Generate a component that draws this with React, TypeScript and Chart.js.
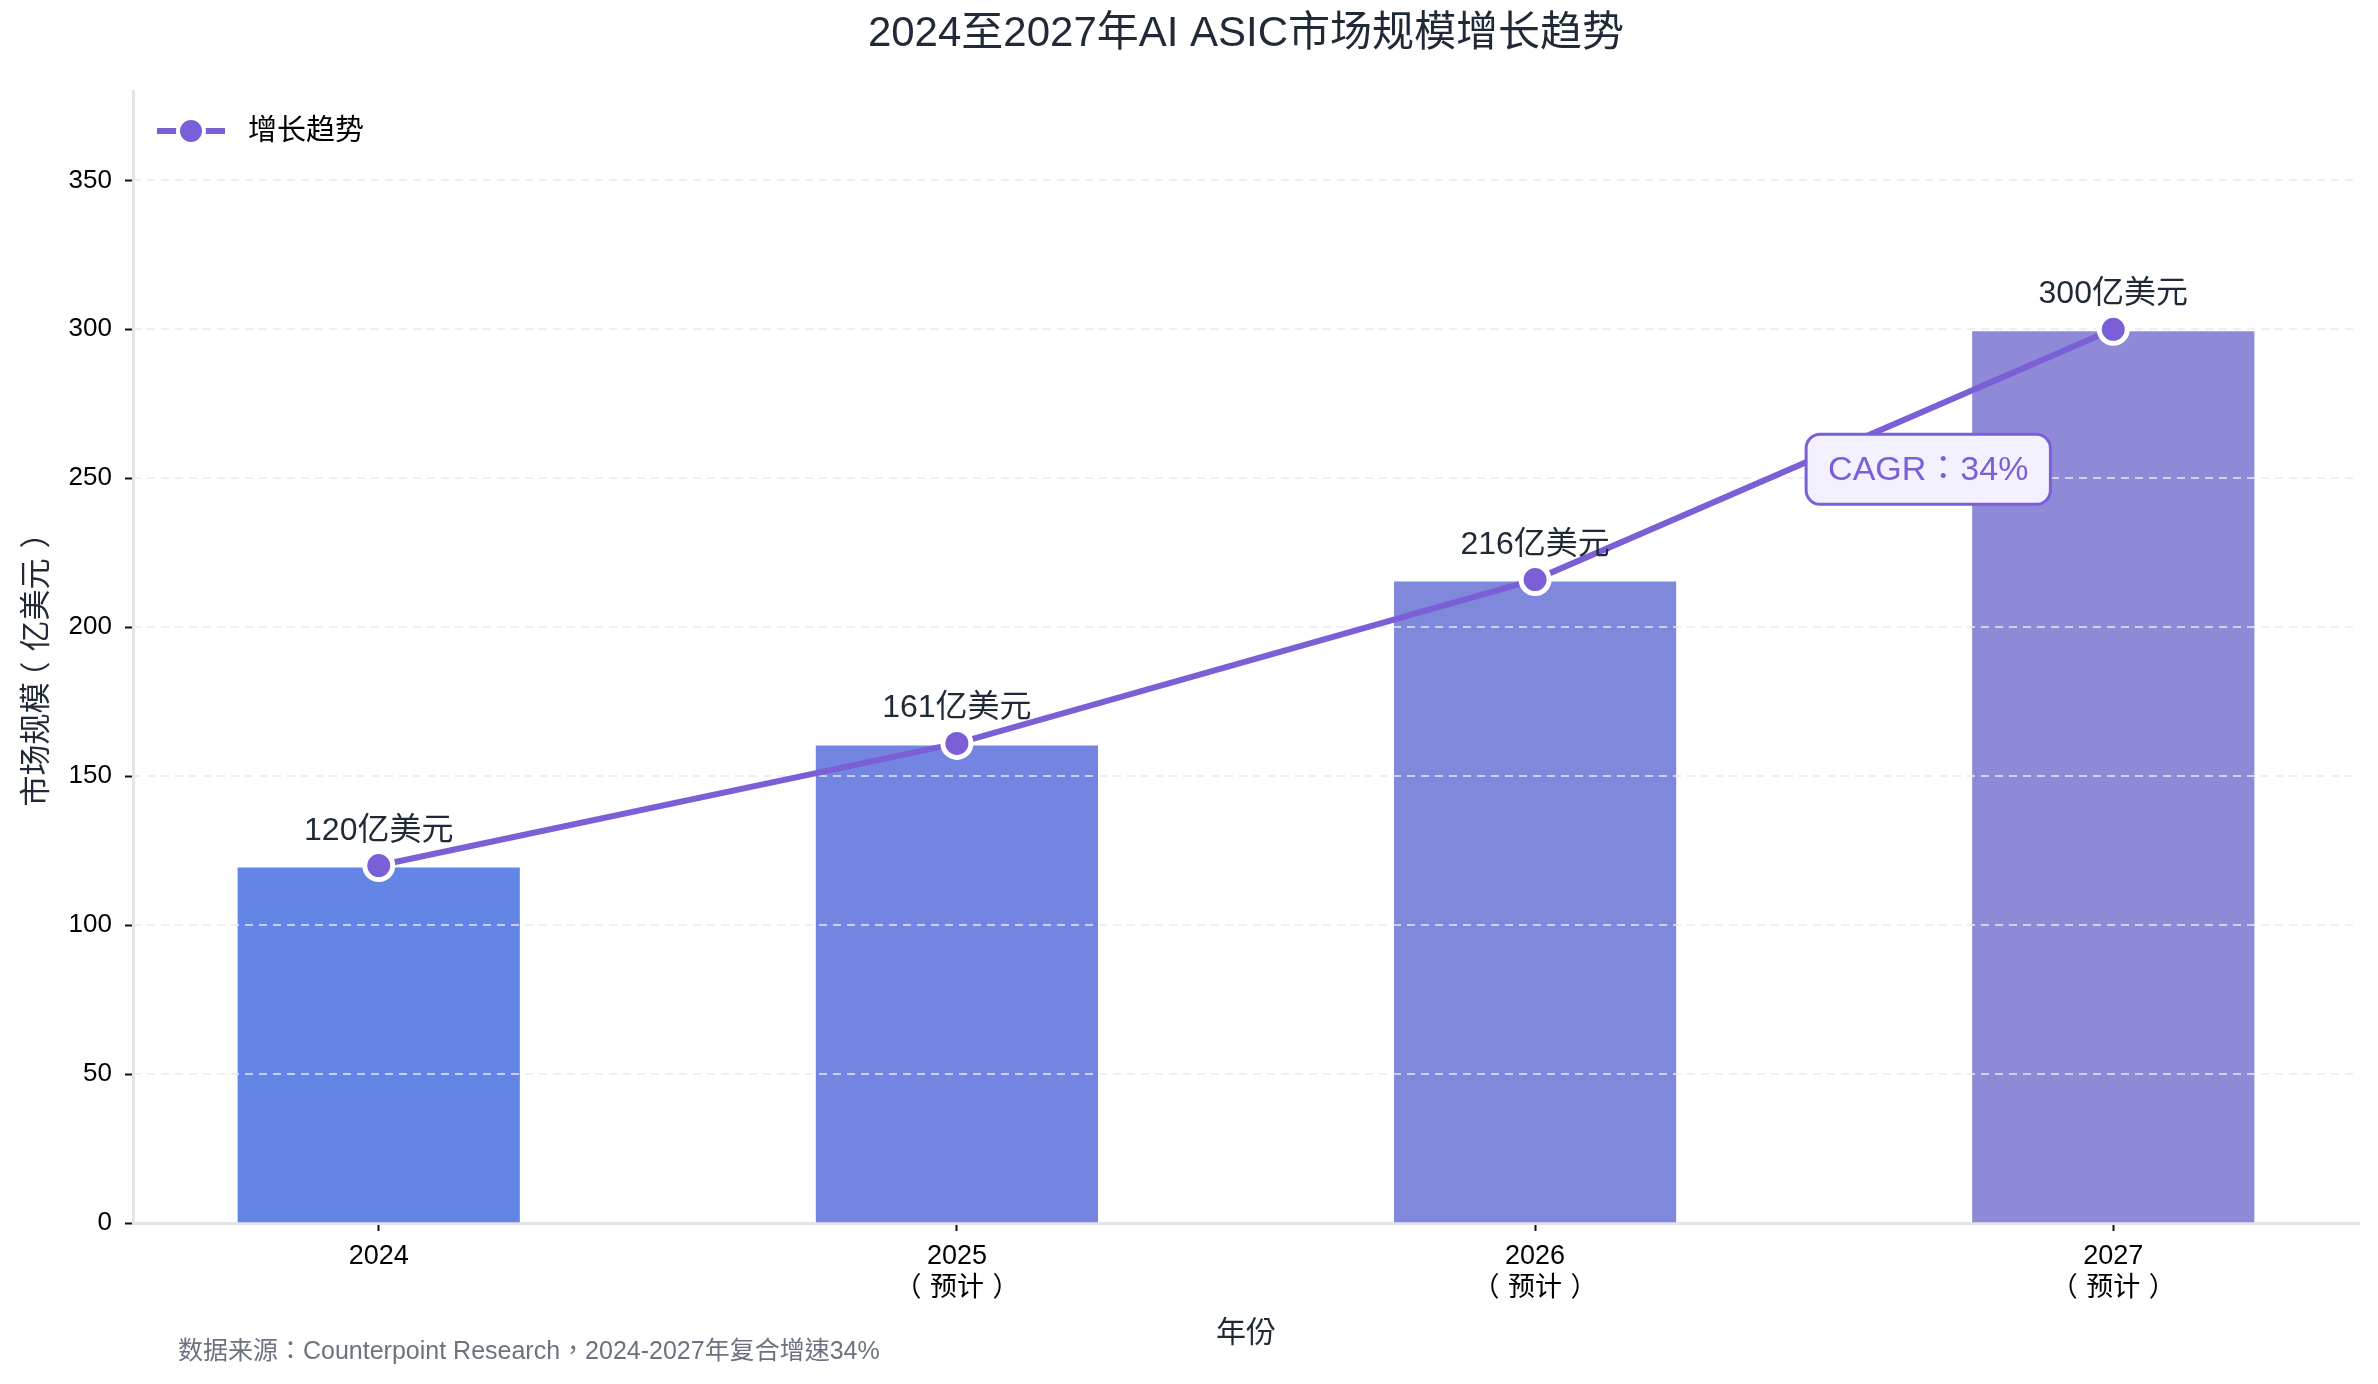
import { useEffect, useRef } from "react";
import { Chart, registerables } from "chart.js";

Chart.register(...registerables);

const years = ["2024", "2025", "2026", "2027"];
const yearNotes = ["", "（预计）", "（预计）", "（预计）"];
const marketSize = [120, 161, 216, 300];
const barColors = ["#6385E6", "#7485E1", "#8088DC", "#8E8AD8"];

const chartTitle = "2024至2027年AI ASIC市场规模增长趋势";
const legendLabel = "增长趋势";
const yTitle = "市场规模（亿美元）";
const xTitle = "年份";
const valueUnit = "亿美元";
const cagrLabel = "CAGR：34%";
const sourceNote = "数据来源：Counterpoint Research，2024-2027年复合增速34%";

const FONT = '"Liberation Sans", "Noto Sans CJK TC", sans-serif';
const PURPLE = "#7B5FD6";
const AXIS = "#E4E4EA";
const GRID = "rgba(232,232,240,0.75)";
const TEXT = "#1F2937";

// where the CAGR note sits, in data units
const cagrAt = { x: 2.68, y: 253 };

// full-width punctuation gets a whole em cell, its ink centred in the cell
const FULL_PUNCT = /[（）：，]/;
function drawText(ctx: CanvasRenderingContext2D, text: string, x: number, y: number, align: "left" | "center") {
  const em = ctx.measureText("中").width;
  const parts: { s: string; w: number; p: boolean }[] = [];
  let buf = "";
  for (const ch of text) {
    if (FULL_PUNCT.test(ch)) {
      if (buf) parts.push({ s: buf, w: ctx.measureText(buf).width, p: false });
      buf = "";
      parts.push({ s: ch, w: em, p: true });
    } else {
      buf += ch;
    }
  }
  if (buf) parts.push({ s: buf, w: ctx.measureText(buf).width, p: false });
  const total = parts.reduce((a, p) => a + p.w, 0);
  let cx = align === "center" ? x - total / 2 : x;
  ctx.save();
  ctx.textAlign = "left";
  for (const part of parts) {
    if (part.p) {
      const m = ctx.measureText(part.s);
      const inkHalf = (m.actualBoundingBoxRight - m.actualBoundingBoxLeft) / 2;
      ctx.fillText(part.s, cx + part.w / 2 - inkHalf, y);
    } else {
      ctx.fillText(part.s, cx, y);
    }
    cx += part.w;
  }
  ctx.restore();
}

const overlay = {
  id: "overlay",
  // dashed grid sits above the bars but under the trend line
  afterDatasetDraw(chart: any, args: any) {
    if (args.meta.type !== "bar") return;
    const { ctx, chartArea, scales } = chart;
    const ys = scales.y;
    ctx.save();
    ctx.strokeStyle = GRID;
    ctx.lineWidth = 2;
    ctx.setLineDash([8, 6]);
    ys.ticks.forEach((t: any) => {
      if (t.value === 0) return;
      const py = Math.round(ys.getPixelForValue(t.value));
      ctx.beginPath();
      ctx.moveTo(chartArea.left, py);
      ctx.lineTo(chartArea.right, py);
      ctx.stroke();
    });
    ctx.restore();
  },
  afterDraw(chart: any) {
    const { ctx, chartArea, scales } = chart;
    const xs = scales.x;
    const ys = scales.y;
    const midX = (chartArea.left + chartArea.right) / 2;
    ctx.save();

    // title
    ctx.fillStyle = TEXT;
    ctx.textAlign = "center";
    ctx.textBaseline = "middle";
    ctx.font = `42px ${FONT}`;
    ctx.fillText(chartTitle, midX, 34);

    // second line of the x tick labels
    ctx.fillStyle = "#000";
    ctx.font = `27px ${FONT}`;
    yearNotes.forEach((note, i) => {
      if (note) drawText(ctx, note, xs.getPixelForValue(i), chartArea.bottom + 66, "center");
    });

    // axis titles
    ctx.fillStyle = TEXT;
    ctx.textAlign = "center";
    ctx.font = `30px ${FONT}`;
    ctx.fillText(xTitle, midX, chart.height - 50);
    ctx.save();
    ctx.translate(37, (chartArea.top + chartArea.bottom) / 2 + 10);
    ctx.rotate(-Math.PI / 2);
    ctx.font = `31px ${FONT}`;
    drawText(ctx, yTitle, 0, 0, "center");
    ctx.restore();

    // value labels
    ctx.font = `32px ${FONT}`;
    ctx.textAlign = "center";
    ctx.textBaseline = "alphabetic";
    marketSize.forEach((v, i) => {
      ctx.fillText(`${v}${valueUnit}`, xs.getPixelForValue(i), ys.getPixelForValue(v) - 26);
    });

    // CAGR box
    ctx.font = `34px ${FONT}`;
    const cx = xs.getPixelForValue(cagrAt.x);
    const cy = ys.getPixelForValue(cagrAt.y);
    const tw = ctx.measureText("CAGR34%").width + ctx.measureText("中").width;
    const bw = tw + 44;
    const bh = 70;
    ctx.beginPath();
    ctx.roundRect(cx - bw / 2, cy - bh / 2, bw, bh, 14);
    ctx.fillStyle = "#F3F0FF";
    ctx.fill();
    ctx.lineWidth = 3;
    ctx.strokeStyle = PURPLE;
    ctx.stroke();
    ctx.fillStyle = PURPLE;
    ctx.textBaseline = "middle";
    drawText(ctx, cagrLabel, cx, cy + 1, "center");

    // legend
    const ly = chartArea.top + 40;
    const lx = chartArea.left + 24;
    ctx.strokeStyle = PURPLE;
    ctx.lineWidth = 6;
    ctx.beginPath();
    ctx.moveTo(lx, ly);
    ctx.lineTo(lx + 68, ly);
    ctx.stroke();
    ctx.beginPath();
    ctx.arc(lx + 34, ly, 13, 0, Math.PI * 2);
    ctx.fillStyle = PURPLE;
    ctx.fill();
    ctx.strokeStyle = "#fff";
    ctx.lineWidth = 4;
    ctx.stroke();
    ctx.fillStyle = "#000";
    ctx.textAlign = "left";
    ctx.font = `29px ${FONT}`;
    ctx.fillText(legendLabel, lx + 91, ly + 1);

    // source note
    ctx.fillStyle = "#6B7280";
    ctx.font = `25px ${FONT}`;
    drawText(ctx, sourceNote, chartArea.left + 45, chart.height - 32, "left");

    ctx.restore();
  },
};

export default function App() {
  const canvasRef = useRef<HTMLCanvasElement>(null);

  useEffect(() => {
    if (!canvasRef.current) return;
    const points = years.map((_, i) => ({ x: i, y: marketSize[i] }));

    const chart = new Chart(canvasRef.current, {
      type: "bar",
      data: {
        datasets: [
          {
            type: "line",
            label: legendLabel,
            data: points,
            borderColor: PURPLE,
            borderWidth: 6,
            pointRadius: 14,
            pointBackgroundColor: PURPLE,
            pointBorderColor: "#fff",
            pointBorderWidth: 5,
            tension: 0,
            order: 0,
          },
          {
            type: "bar",
            label: "市场规模",
            data: points,
            backgroundColor: barColors,
            borderColor: "rgba(255,255,255,0.8)",
            borderWidth: 2,
            barPercentage: 0.495,
            categoryPercentage: 1,
            order: 1,
          },
        ] as any,
      },
      options: {
        animation: false,
        responsive: true,
        maintainAspectRatio: false,
        events: [],
        layout: { padding: { top: 91, right: 19, left: 0, bottom: 0 } },
        plugins: {
          legend: { display: false },
          title: { display: false },
          tooltip: { enabled: false },
        },
        scales: {
          x: {
            type: "linear",
            min: -0.425,
            max: 3.425,
            offset: false,
            afterBuildTicks: (s: any) => {
              s.ticks = years.map((_, i) => ({ value: i }));
            },
            afterFit: (s: any) => {
              s.height = 161;
            },
            grid: {
              display: true,
              drawOnChartArea: false,
              drawTicks: true,
              tickLength: 8,
              tickColor: "#111",
              tickWidth: 2,
              offset: false,
            },
            border: { display: true, color: AXIS, width: 3 },
            ticks: {
              padding: 8,
              color: "#000",
              maxRotation: 0,
              autoSkip: false,
              font: { family: FONT, size: 27, lineHeight: 1.27 },
              callback: (v: any) => years[Math.round(Number(v))],
            },
          },
          y: {
            min: 0,
            max: 380,
            afterFit: (s: any) => {
              s.width = 133;
            },
            ticks: {
              stepSize: 50,
              includeBounds: false,
              padding: 13,
              color: "#000",
              font: { family: FONT, size: 26 },
            },
            grid: {
              display: true,
              drawOnChartArea: false,
              drawTicks: true,
              tickLength: 8,
              tickColor: "#111",
              tickWidth: 2,
            },
            border: { display: true, color: AXIS, width: 3 },
          },
        } as any,
      },
      plugins: [overlay],
    });

    return () => chart.destroy();
  }, []);

  return (
    <div
      style={{
        position: "fixed",
        left: 0,
        top: 0,
        width: 2378,
        height: 1384,
        background: "#fff",
      }}
    >
      <canvas ref={canvasRef} />
    </div>
  );
}
